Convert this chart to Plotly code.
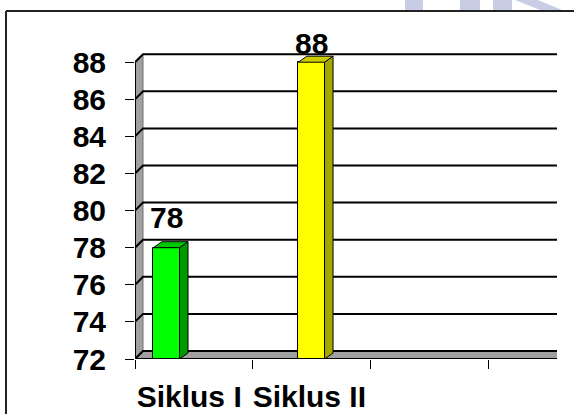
import plotly.graph_objects as go

# ---- data ----
CATEGORIES = ["Siklus I", "Siklus II"]
VALUES = [78, 88]
Y_TICKS = [72, 74, 76, 78, 80, 82, 84, 86, 88]
Y_MIN = 72

# ---- style / layout constants ----
W, H = 574, 414
L, R, T, PB = 135, 557, 20, 359          # plot area in px
PW, PH = R - L, PB - T
CAT_PX = 117.8                            # px per category slot
Y_PX = 18.55                              # px per y unit
X_MAX = PW / CAT_PX
Y_MAX = Y_MIN + PH / Y_PX
N_SLOTS = 4
BAR_SHIFT = [-0.233, -0.002]              # position shift inside slot
LABEL_SHIFT = [-0.04, -0.02]
BAR_W = 0.222
LABEL_YSHIFT = [12, 0]
FRONT = ["#00FF00", "#FFFF00"]
SIDE = ["#009A00", "#A6A600"]
TOP = ["#00C800", "#CCCC00"]
WALL = "#A0A0A0"
FONT = "Liberation Sans, Arial, sans-serif"
NUM_SIZE = 30
CAT_SIZE = 30

DXW, DYW = 8 / CAT_PX, 8 / Y_PX          # wall depth in data units
DXB, DYB = 8.5 / CAT_PX, 6 / Y_PX        # bar depth in data units


def px(xp, yp):
    return (xp - L) / PW, (PB - yp) / PH


fig = go.Figure()
xs = [i + 0.5 + s for i, s in enumerate(BAR_SHIFT)]
fig.add_trace(go.Bar(
    x=xs, y=[v - Y_MIN for v in VALUES], base=Y_MIN, width=BAR_W,
    marker=dict(color=FRONT, line=dict(color="black", width=1)),
    hoverinfo="skip", showlegend=False,
))

shapes = []
# floor
shapes.append(dict(type="path", xref="x", yref="y", layer="below",
                   path=f"M 0,{Y_MIN} L {X_MAX},{Y_MIN} L {X_MAX},{Y_MIN+DYW} L {DXW},{Y_MIN+DYW} Z",
                   fillcolor=WALL, line=dict(width=0)))
shapes.append(dict(type="line", xref="x", yref="y", layer="below",
                   x0=0, x1=X_MAX, y0=Y_MIN, y1=Y_MIN, line=dict(color="black", width=2)))
# left wall
top = Y_TICKS[-1]
shapes.append(dict(type="path", xref="x", yref="y", layer="below",
                   path=f"M 0,{Y_MIN} L {DXW},{Y_MIN+DYW} L {DXW},{top+DYW} L 0,{top} Z",
                   fillcolor=WALL, line=dict(color="#707070", width=1)))
# gridlines
for v in Y_TICKS:
    shapes.append(dict(type="path", xref="x", yref="y", layer="below",
                       path=f"M 0,{v} L {DXW},{v+DYW} L {X_MAX},{v+DYW}",
                       line=dict(color="black", width=2)))
# front axis line
shapes.append(dict(type="line", xref="x", yref="y", layer="below",
                   x0=0, x1=0, y0=Y_MIN, y1=top, line=dict(color="black", width=2)))
# bar 3D faces
for i, v in enumerate(VALUES):
    x0 = xs[i] - BAR_W / 2
    x1 = xs[i] + BAR_W / 2
    shapes.append(dict(type="path", xref="x", yref="y", layer="above",
                       path=f"M {x1},{Y_MIN} L {x1+DXB},{Y_MIN+DYB} L {x1+DXB},{v+DYB} L {x1},{v} Z",
                       fillcolor=SIDE[i], line=dict(color="black", width=1)))
    shapes.append(dict(type="path", xref="x", yref="y", layer="above",
                       path=f"M {x0},{v} L {x0+DXB},{v+DYB} L {x1+DXB},{v+DYB} L {x1},{v} Z",
                       fillcolor=TOP[i], line=dict(color="black", width=1)))

# faint watermark fragments above the border
WM = "#C8CDE5"
for a0, a1 in [(405, 423), (460, 480), (493, 512)]:
    (xa, ya), (xb, yb) = px(a0, 0), px(a1, 10)
    shapes.append(dict(type="rect", xref="paper", yref="paper", layer="below",
                       x0=xa, x1=xb, y0=yb, y1=ya, fillcolor=WM, line=dict(width=0)))
pts = [px(515, 0), px(538, 0), px(562, 10), px(540, 10)]
shapes.append(dict(type="path", xref="paper", yref="paper", layer="below",
                   path="M " + " L ".join(f"{a},{b}" for a, b in pts) + " Z",
                   fillcolor=WM, line=dict(width=0)))

# outer border (runs off right/bottom edges)
bx0, by0 = px(6, 11)
shapes.append(dict(type="line", xref="paper", yref="paper", x0=bx0, x1=px(W + 20, 0)[0],
                   y0=by0, y1=by0, line=dict(color="#222222", width=2)))
shapes.append(dict(type="line", xref="paper", yref="paper", x0=bx0, x1=bx0,
                   y0=by0, y1=px(0, H + 20)[1], line=dict(color="#222222", width=2)))

annotations = []
for i, v in enumerate(VALUES):
    annotations.append(dict(x=xs[i], y=v, xref="x", yref="y", text=str(v),
                            showarrow=False, yanchor="bottom", yshift=LABEL_YSHIFT[i],
                            font=dict(family=FONT, size=NUM_SIZE, color="black", weight="bold")))

fig.update_layout(
    width=W, height=H, autosize=False,
    margin=dict(l=L, r=W - R, t=T, b=H - PB, pad=0, autoexpand=False),
    paper_bgcolor="white", plot_bgcolor="white",
    shapes=shapes, annotations=annotations,
    bargap=0,
    xaxis=dict(range=[0, X_MAX], tickmode="array", automargin=False,
               tickvals=[i + 0.5 + s for i, s in enumerate(LABEL_SHIFT)], ticktext=CATEGORIES,
               ticks="", showgrid=False, zeroline=False, showline=False,
               ticklabelstandoff=17,
               minor=dict(tickmode="array", tickvals=list(range(N_SLOTS)), ticks="outside",
                          ticklen=9, tickwidth=1, tickcolor="black", showgrid=False),
               tickfont=dict(family=FONT, size=CAT_SIZE, color="black", weight="bold"),
               fixedrange=True),
    yaxis=dict(range=[Y_MIN, Y_MAX], tickmode="array", tickvals=Y_TICKS, automargin=False,
               ticks="outside", ticklen=9, tickwidth=1, tickcolor="black",
               showgrid=False, zeroline=False, showline=False,
               ticklabelstandoff=13,
               tickfont=dict(family=FONT, size=NUM_SIZE, color="black", weight="bold"),
               fixedrange=True),
)

fig.write_html("out.html", config={"displayModeBar": False},
               post_script="document.body.style.margin='0px';document.body.style.overflow='hidden';")
